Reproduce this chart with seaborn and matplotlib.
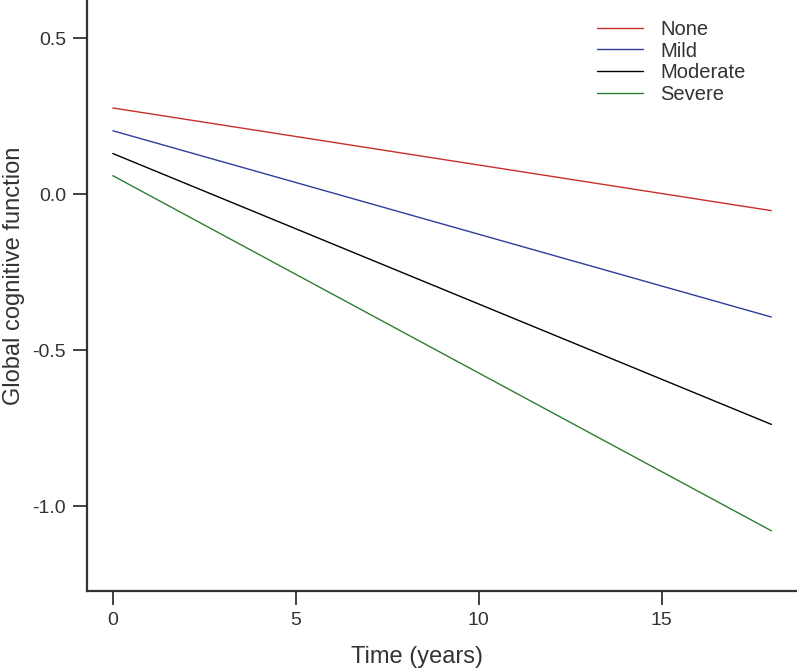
import matplotlib
matplotlib.use("Agg")
import matplotlib.pyplot as plt
import seaborn as sns
import pandas as pd
from matplotlib.ticker import FuncFormatter

groups = ["None", "Mild", "Moderate", "Severe"]
times = [0, 18]
start_values = [0.276, 0.203, 0.130, 0.059]
end_values = [-0.053, -0.394, -0.738, -1.079]
colors = ["#c8302c", "#2f3d99", "#000000", "#2e7d32"]

rows = []
for g, s, e in zip(groups, start_values, end_values):
    rows.append({"Time": times[0], "Value": s, "Group": g})
    rows.append({"Time": times[1], "Value": e, "Group": g})
df = pd.DataFrame(rows)

sns.set_style("ticks")
plt.rcParams["font.family"] = ["Liberation Sans", "DejaVu Sans"]

fig = plt.figure(figsize=(7.97, 6.72), dpi=100)
ax = fig.add_axes([0.109, 0.1205, 0.891, 0.8795])

sns.lineplot(data=df, x="Time", y="Value", hue="Group", hue_order=groups,
             palette=colors, linewidth=1.0, ax=ax)

ax.set_xlim(-0.71, 18.7)
ax.set_ylim(-1.272, 0.622)
ax.set_xticks([0, 5, 10, 15])
ax.set_yticks([0.5, 0.0, -0.5, -1.0])
ax.yaxis.set_major_formatter(FuncFormatter(lambda v, p: f"{v:.1f}".replace("\u2212", "-")))

for side in ["top", "right"]:
    ax.spines[side].set_visible(False)
for side in ["left", "bottom"]:
    ax.spines[side].set_linewidth(1.6)
    ax.spines[side].set_color("#333333")

ax.tick_params(axis="both", direction="out", length=10, width=1.3, color="#333333",
               labelsize=14, labelcolor="#333333", pad=5)

ax.set_xlabel("Time (years)", fontsize=17, color="#333333")
ax.xaxis.set_label_coords(0.465, -0.093)
ax.set_ylabel("Global cognitive function", fontsize=17, color="#333333")
ax.yaxis.set_label_coords(-0.087, 0.533)

leg = ax.legend(loc="upper left", bbox_to_anchor=(0.693, 0.997), frameon=False,
                fontsize=14.5, handlelength=2.3, handletextpad=0.85,
                labelspacing=0.13, title=None)
for t in leg.get_texts():
    t.set_color("#333333")

fig.savefig("out.png", dpi=100)
